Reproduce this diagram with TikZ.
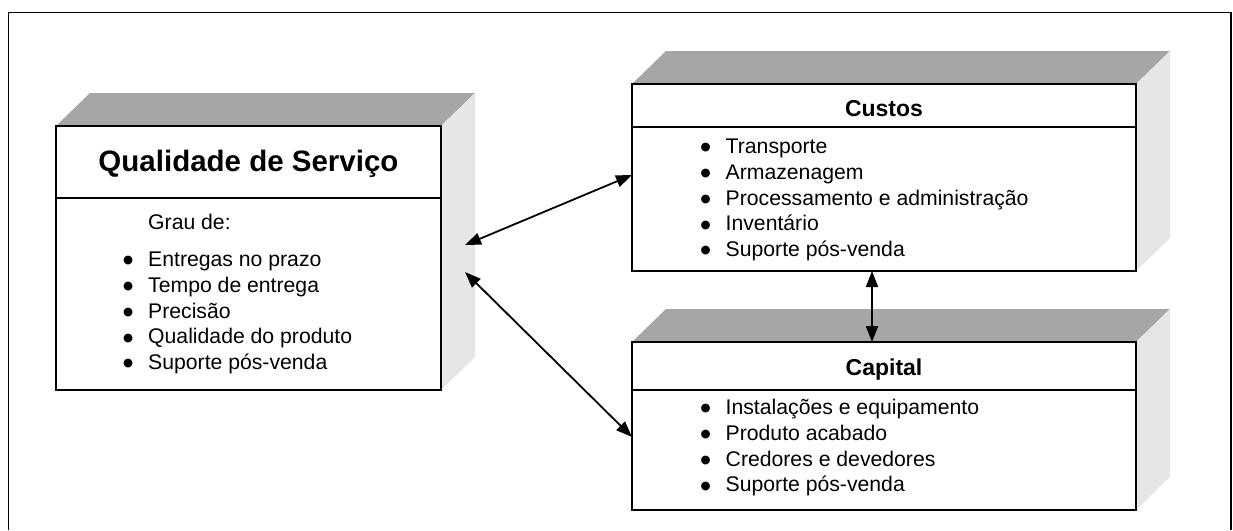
\documentclass[tikz,border=0pt]{standalone}
\usepackage{fontspec}
\setmainfont{Liberation Sans}
\newfontfamily\symfont{DejaVu Sans}
\usetikzlibrary{arrows.meta,backgrounds,calc}

\definecolor{topface}{HTML}{A6A6A6}
\definecolor{sideface}{HTML}{E6E6E6}

% list bullet: a small round dot in a fixed-width box
\newcommand\bul{\makebox[24.5pt][l]{\hspace*{-0.5pt}\raisebox{2.9pt}{\symfont\fontsize{11.5}{11.5}\selectfont ●}}}

% extruded block: grey top face and light side face behind a framed front node
\newcommand\blockfaces[1]{%
  \fill[topface] (#1.north west) -- ++(34,-33) -- ($(#1.north east)+(34,-33)$) -- (#1.north east) -- cycle;
  \fill[sideface] (#1.north east) -- ++(34,-33) -- ($(#1.south east)+(34,-33)$) -- (#1.south east) -- cycle;
}

\tikzset{
  front/.style={draw=black, line width=1.8pt, fill=white, anchor=north west,
                inner sep=0pt, outer sep=0pt},
  rule/.style={line width=1.8pt},
  boxtitle/.style={font=\bfseries\fontsize{23}{27}\selectfont, anchor=base, inner sep=0pt},
  bigtitle/.style={font=\bfseries\fontsize{29.5}{36}\selectfont, anchor=base, inner sep=0pt},
  % multi-line lists are placed by the baseline of their last line
  itemlist/.style={font=\fontsize{21.2}{25.8}\selectfont, align=left, anchor=base west, inner sep=0pt},
  link/.style={line width=1.8pt, {Triangle[length=16pt,width=12pt]}-{Triangle[length=16pt,width=12pt]}},
  frame/.style={line width=1.8pt}
}

\begin{document}
\begin{tikzpicture}[x=1pt, y=-1pt]
\useasboundingbox (0,0) rectangle (1233,530);

% outer frame
\draw[frame] (8.5,530) -- (8.5,12.5) -- (1231,12.5) -- (1231,530);

% front faces
\node[front, minimum width=385pt, minimum height=264pt] (q) at (56,126) {};
\node[front, minimum width=504pt, minimum height=187pt] (c) at (632,84) {};
\node[front, minimum width=504pt, minimum height=168pt] (k) at (632,342) {};

\begin{scope}[on background layer]
  \blockfaces{q}
  \blockfaces{c}
  \blockfaces{k}
\end{scope}

% header rules
\draw[rule] ([yshift=-72pt]q.north west) -- ([yshift=-72pt]q.north east);
\draw[rule] ([yshift=-43pt]c.north west) -- ([yshift=-43pt]c.north east);
\draw[rule] ([yshift=-48pt]k.north west) -- ([yshift=-48pt]k.north east);

% titles
\node[bigtitle] (qt) at ($(q.north)+(0,45.5)$) {Qualidade de Serviço};
\node[boxtitle] (ct) at ($(c.north)+(0,32.7)$) {Custos};
\node[boxtitle] (kt) at ($(k.north)+(0,33)$) {Capital};

% contents
\node[itemlist] (qg) at (148,229.5) {Grau de:};
\node[itemlist] (ql) at (123.5,369.7) {\bul Entregas no prazo\\\bul Tempo de entrega\\\bul Precisão\\\bul Qualidade do produto\\\bul Suporte pós-venda};
\node[itemlist] (cl) at (701,256.7) {\bul Transporte\\\bul Armazenagem\\\bul Processamento e administração\\\bul Inventário\\\bul Suporte pós-venda};
\node[itemlist] (kl) at (701,491.9) {\bul Instalações e equipamento\\\bul Produto acabado\\\bul Credores e devedores\\\bul Suporte pós-venda};

% connectors
\coordinate (qa) at ($(q.east)+(24,-13)$);
\coordinate (qb) at ($(q.east)+(24,14)$);
\draw[link] (qa) -- ([yshift=2.5pt]c.west);
\draw[link] (qb) -- ([yshift=-11pt]k.west);
\draw[link] ([xshift=-12pt]c.south) -- ([xshift=-12pt]k.north);
\end{tikzpicture}
\end{document}
